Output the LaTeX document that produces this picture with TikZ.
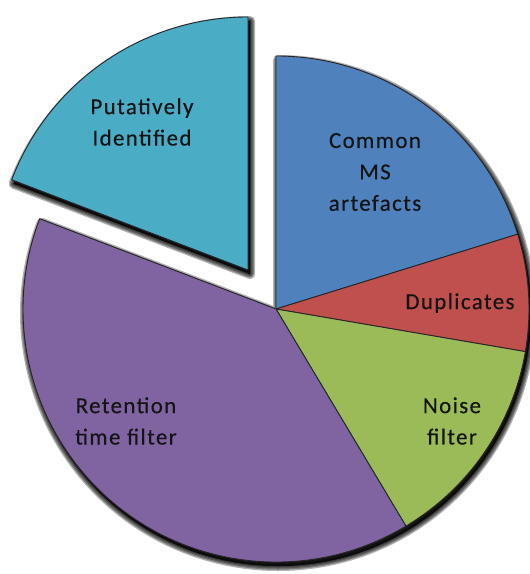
\documentclass[tikz,border=0pt]{standalone}
\usepackage{fontspec}
\newfontfamily\labelfont[LetterSpace=6,FakeBold=0.3]{Carlito}
\definecolor{sliceblue}{HTML}{4F81BD}
\definecolor{slicered}{HTML}{C0504D}
\definecolor{slicegreen}{HTML}{9BBB59}
\definecolor{slicepurple}{HTML}{8064A2}
\definecolor{sliceaqua}{HTML}{4BACC6}
\begin{document}
\begin{tikzpicture}[x=1bp,y=1bp,
  slice/.style={draw=black!85, line width=0.9bp, line join=round},
  softshadow/.style={fill=black, draw=black, opacity=0.3, line join=round},
  lbl/.style={font=\labelfont\fontsize{23}{31.5}\selectfont, text=black!92,
              align=center, inner sep=0pt}]
\useasboundingbox (-276,-265) rectangle (254,309);

% soft drop shadows: the joined pie and the pulled-out wedge
\foreach \w in {10bp,7.5bp,5bp,2.5bp,0.1bp}{
  \path[softshadow, line width=\w, shift={(2,-4)}]
    (0,0) -- (90:253bp) arc[start angle=90, end angle=-200.9, radius=253bp] -- cycle;
  \path[softshadow, line width=\w, shift={(-26,35)}]
    (0,0) -- (159.1:253bp) arc[start angle=159.1, end angle=90, radius=253bp] -- cycle;
}

% slices
\path[slice, fill=sliceblue]
  (0,0) -- (90:253bp) arc[start angle=90, end angle=17.2, radius=253bp] -- cycle;
\path[slice, fill=slicered]
  (0,0) -- (17.2:253bp) arc[start angle=17.2, end angle=-9.7, radius=253bp] -- cycle;
\path[slice, fill=slicegreen]
  (0,0) -- (-9.7:253bp) arc[start angle=-9.7, end angle=-59.1, radius=253bp] -- cycle;
\path[slice, fill=slicepurple]
  (0,0) -- (-59.1:253bp) arc[start angle=-59.1, end angle=-200.9, radius=253bp] -- cycle;
\begin{scope}[shift={(-28,39)}]
  \path[slice, fill=sliceaqua]
    (0,0) -- (159.1:253bp) arc[start angle=159.1, end angle=90, radius=253bp] -- cycle;
\end{scope}

% labels
\node[lbl] (putative) at (-134,187) {Putatively\\Identified};
\node[lbl] (common) at (99,137) {Common\\MS\\artefacts};
\node[lbl] (dupl) at (184,6) {Duplicates};
\node[lbl] (noise) at (176,-112) {Noise\\filter};
\node[lbl] (retention) at (-150,-112) {Retention\\time filter};
\end{tikzpicture}
\end{document}
